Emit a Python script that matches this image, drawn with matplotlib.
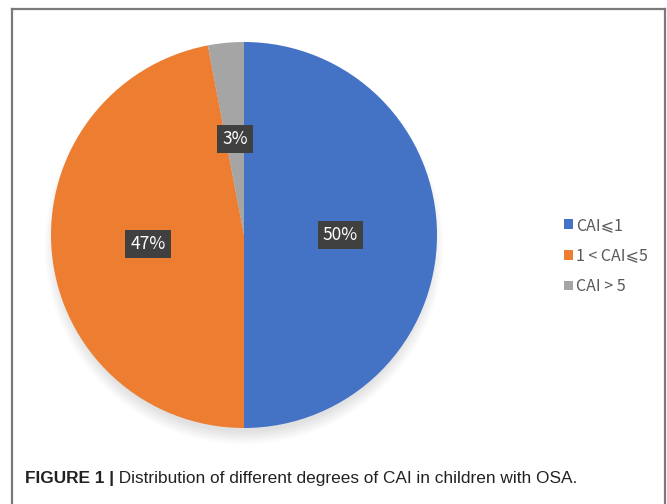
import matplotlib
matplotlib.use("Agg")
import matplotlib.pyplot as plt
from matplotlib.patches import Patch, Circle
from matplotlib.lines import Line2D

labels = ["CAI⩽1", "1 < CAI⩽5", "CAI > 5"]
values = [50, 47, 3]
colors = ["#4472C4", "#ED7D31", "#A5A5A5"]
caption_bold = "FIGURE 1 |"
caption_text = " Distribution of different degrees of CAI in children with OSA."

W, H = 667, 504
fig = plt.figure(figsize=(W / 100, H / 100), dpi=100)
fig.patch.set_facecolor("white")

# outer frame (no bottom line)
fc = "#7a7a7a"
fig.add_artist(Line2D([12 / W, 12 / W], [0, 1 - 9 / H], color=fc, lw=1.6, transform=fig.transFigure))
fig.add_artist(Line2D([12 / W, 665 / W], [1 - 9 / H, 1 - 9 / H], color=fc, lw=1.6, transform=fig.transFigure))
fig.add_artist(Line2D([665 / W, 665 / W], [0, 1 - 9 / H], color=fc, lw=1.6, transform=fig.transFigure))

# pie axes: center (244, 235), radius 193 px
cx, cy, r = 244, 235, 193
ax = fig.add_axes([(cx - r) / W, 1 - (cy + r) / H, 2 * r / W, 2 * r / H])

# soft shadow below the pie
for i in range(10):
    ax.add_patch(Circle((0, -0.05), 0.97 + 0.007 * i, color="black", alpha=0.012,
                        lw=0, zorder=0, clip_on=False))

wedges, texts = ax.pie(values, colors=colors, startangle=90, counterclock=False,
                       labels=[f"{v}%" for v in values], labeldistance=0.5,
                       wedgeprops=dict(linewidth=0))
for t in texts:
    t.set_color("white")
    t.set_fontsize(12.5)
    t.set_family(["Noto Sans CJK SC", "DejaVu Sans"])
    t.set_ha("center")
    t.set_va("center")
    t.set_bbox(dict(boxstyle="square,pad=0.3", facecolor="#404040", edgecolor="none"))
ax.set_xlim(-1, 1)
ax.set_ylim(-1, 1)
ax.set_aspect("equal")

handles = [Patch(facecolor=c, edgecolor="none") for c in colors]
leg = fig.legend(handles, labels, loc="center left", bbox_to_anchor=(550 / W, 1 - 256 / H),
                 frameon=False, handlelength=0.55, handleheight=0.55,
                 handletextpad=0.2, labelspacing=0.85,
                 prop={"family": ["Noto Sans CJK SC", "DejaVu Sans"], "size": 11.5})
for t in leg.get_texts():
    t.set_color("#595959")

t1 = fig.text(25 / W, 1 - 483 / H, caption_bold, fontsize=12.4, fontweight="bold",
              family="Liberation Sans", color="#222222", va="baseline")
fig.canvas.draw()
ext = t1.get_window_extent()
fig.text(ext.x1 / W, 1 - 483 / H, caption_text, fontsize=12.4,
         family="Liberation Sans", color="#222222", va="baseline")

fig.savefig("out.png", dpi=100, facecolor="white")
